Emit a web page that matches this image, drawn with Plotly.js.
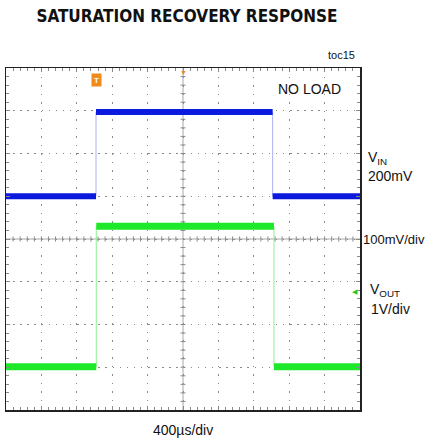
<!DOCTYPE html>
<html>
<head>
<meta charset="utf-8">
<script src="https://cdn.plot.ly/plotly-3.0.1.min.js"></script>
<style>html,body{margin:0;padding:0;background:#fff;}#chart{width:425px;height:440px;}</style>
</head>
<body>
<div id="chart"></div>
<script>
// Time in microseconds relative to screen centre (400 us/div), levels in screen divisions
const vinTime = [-2000, -983, -983, 1013, 1013, 2000];
const vinLevel = [1.0, 1.0, 2.97, 2.97, 1.0, 1.0];
const voutTime = [-2000, -980, -980, 1028, 1028, 2000];
const voutLevel = [-2.99, -2.99, 0.3, 0.3, -2.99, -2.99];

function flatSegments(t, v) {
  const xs = [], ys = [];
  for (let i = 0; i < t.length - 1; i++) {
    if (v[i] === v[i + 1]) {
      xs.push(t[i], t[i + 1], null);
      ys.push(v[i], v[i + 1], null);
    }
  }
  return {x: xs, y: ys};
}
const vinFlat = flatSegments(vinTime, vinLevel);
const voutFlat = flatSegments(voutTime, voutLevel);

const traces = [
  {x: vinTime, y: vinLevel, mode: 'lines', line: {color: '#a9b0f2', width: 1}, hoverinfo: 'skip', showlegend: false},
  {x: voutTime, y: voutLevel, mode: 'lines', line: {color: '#8ef08e', width: 1}, hoverinfo: 'skip', showlegend: false},
  {x: vinFlat.x, y: vinFlat.y, mode: 'lines', line: {color: '#0c1ade', width: 6}, connectgaps: false, showlegend: false},
  {x: voutFlat.x, y: voutFlat.y, mode: 'lines', line: {color: '#1ee82a', width: 7}, connectgaps: false, showlegend: false}
];

// Scope graticule decoration: centre crosshair lines with small tick marks
const tickCol = '#8a8a8a';
const shapes = [
  {type: 'line', xref: 'x', yref: 'y', x0: 0, x1: 0, y0: -4, y1: 4, line: {color: '#a8a8a8', width: 1}, layer: 'below'},
  {type: 'line', xref: 'x', yref: 'y', x0: -2000, x1: 2000, y0: 0, y1: 0, line: {color: '#a8a8a8', width: 1}, layer: 'below'}
];
for (let k = -24; k <= 24; k++) {
  if (k === 0) continue;
  shapes.push({type: 'line', xref: 'x', yref: 'y', x0: k * 80, x1: k * 80, y0: -0.06, y1: 0.06,
    line: {color: tickCol, width: 1}, layer: 'below'});
}
for (let k = -19; k <= 19; k++) {
  if (k === 0) continue;
  shapes.push({type: 'line', xref: 'x', yref: 'y', x0: -28, x1: 28, y0: k * 0.2, y1: k * 0.2,
    line: {color: tickCol, width: 1}, layer: 'below'});
}

const layout = {
  width: 425, height: 440,
  margin: {l: 6, r: 65, t: 68, b: 30},
  paper_bgcolor: '#fff', plot_bgcolor: '#fff',
  font: {family: 'Liberation Sans, Arial, sans-serif', color: '#111'},
  showlegend: false,
  shapes: shapes,
  xaxis: {
    range: [-2000, 2000], dtick: 400, showticklabels: false, ticks: 'inside', ticklen: 4, tickcolor: tickCol,
    showgrid: true, gridcolor: '#8a8a8a', griddash: '1.5px,7px', gridwidth: 1,
    zeroline: false,
    showline: true, linecolor: '#222', linewidth: 1.5, mirror: 'ticks',
    minor: {dtick: 80, ticks: 'inside', ticklen: 3, tickcolor: tickCol, showgrid: false},
    fixedrange: true
  },
  yaxis: {
    range: [-4, 4], dtick: 1, showticklabels: false, ticks: 'inside', ticklen: 4, tickcolor: tickCol,
    showgrid: true, gridcolor: '#8a8a8a', griddash: '1.5px,5.6px', gridwidth: 1,
    zeroline: false,
    showline: true, linecolor: '#222', linewidth: 1.5, mirror: 'ticks',
    minor: {dtick: 0.2, ticks: 'inside', ticklen: 3, tickcolor: tickCol, showgrid: false},
    fixedrange: true
  },
  title: {
    text: '<b>SATURATION RECOVERY RESPONSE</b>',
    font: {family: 'DejaVu Sans Condensed, Liberation Sans, sans-serif', size: 17, color: '#111'},
    x: 187 / 425, xanchor: 'center', y: 1 - 16 / 440, yanchor: 'middle'
  },
  annotations: [
    {text: 'toc15', xref: 'paper', yref: 'paper', x: (357 - 6) / 354, y: 1, xanchor: 'right', yanchor: 'bottom', yshift: 5, showarrow: false, font: {size: 11}},
    {text: 'NO LOAD', xref: 'paper', yref: 'paper', x: (276 - 6) / 354, y: 1 - (89 - 68) / 342, xanchor: 'left', yanchor: 'middle', showarrow: false, font: {size: 14}},
    {text: 'V<sub>IN</sub>', xref: 'paper', yref: 'paper', x: (366 - 6) / 354, y: 1 - (158 - 68) / 342, xanchor: 'left', yanchor: 'middle', showarrow: false, font: {size: 14}},
    {text: '200mV', xref: 'paper', yref: 'paper', x: (366 - 6) / 354, y: 1 - (176 - 68) / 342, xanchor: 'left', yanchor: 'middle', showarrow: false, font: {size: 14}},
    {text: '100mV/div', xref: 'paper', yref: 'paper', x: (361 - 6) / 354, y: 0.5, xanchor: 'left', yanchor: 'middle', showarrow: false, font: {size: 13}},
    {text: 'V<sub>OUT</sub>', xref: 'paper', yref: 'paper', x: (368 - 6) / 354, y: 1 - (290 - 68) / 342, xanchor: 'left', yanchor: 'middle', showarrow: false, font: {size: 14}},
    {text: '1V/div', xref: 'paper', yref: 'paper', x: (369 - 6) / 354, y: 1 - (309 - 68) / 342, xanchor: 'left', yanchor: 'middle', showarrow: false, font: {size: 14}},
    {text: '400µs/div', xref: 'paper', yref: 'paper', x: (183 - 6) / 354, y: 0, xanchor: 'center', yanchor: 'top', yshift: -10, showarrow: false, font: {size: 14}},
    {text: '<b>T</b>', xref: 'x', yref: 'paper', x: -983, y: 1 - (80 - 68) / 342, xanchor: 'center', yanchor: 'middle', showarrow: false, font: {size: 8, color: '#fff'}, bgcolor: '#f08a1c', borderpad: 1, width: 7, height: 10},
    {text: '▼', xref: 'x', yref: 'paper', x: 0, y: 1, xanchor: 'center', yanchor: 'top', yshift: 1, showarrow: false, font: {size: 7, color: '#f08a1c'}},
    {text: '◀', xref: 'paper', yref: 'paper', x: (355 - 6) / 354, y: 1 - (291 - 68) / 342, xanchor: 'center', yanchor: 'middle', showarrow: false, font: {size: 7, color: '#1ec82a'}}
  ]
};

Plotly.newPlot('chart', traces, layout, {staticPlot: true, displayModeBar: false});
</script>
</body>
</html>
